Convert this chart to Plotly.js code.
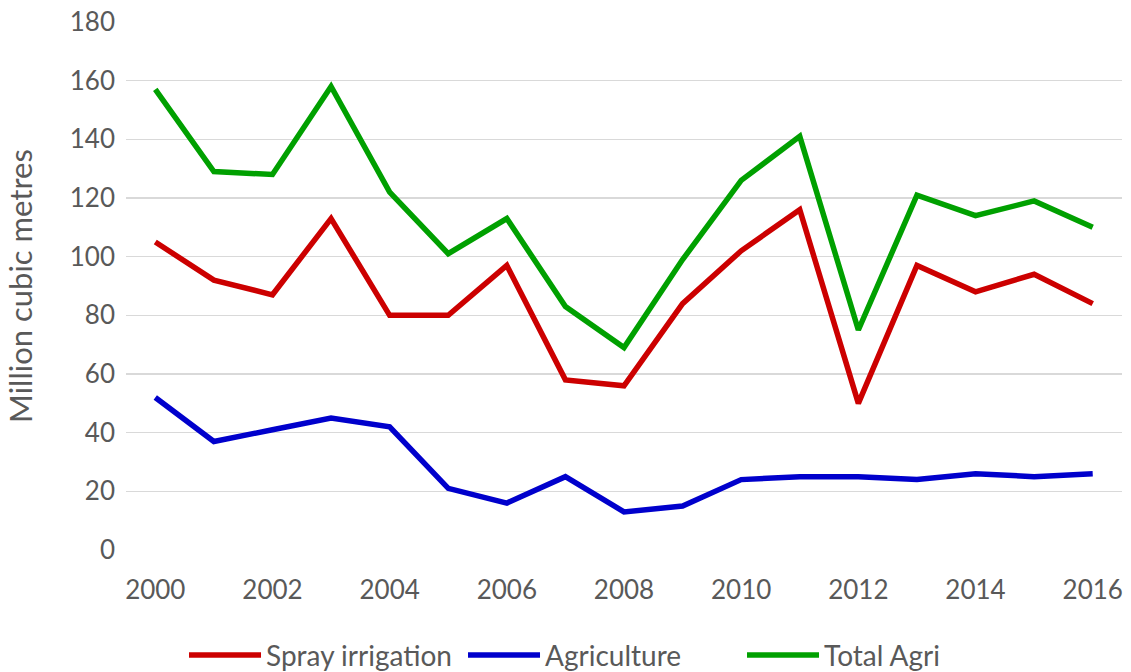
<!DOCTYPE html>
<html>
<head>
<meta charset="utf-8">
<script src="https://cdn.plot.ly/plotly-3.0.1.min.js"></script>
<style>html,body{margin:0;padding:0;background:#fff;}#chart{width:1131px;height:672px;}</style>
</head>
<body>
<div id="chart"></div>
<script>
const years = [2000,2001,2002,2003,2004,2005,2006,2007,2008,2009,2010,2011,2012,2013,2014,2015,2016];
const sprayIrrigation = [105,92,87,113,80,80,97,58,56,84,102,116,50,97,88,94,84];
const agriculture = [52,37,41,45,42,21,16,25,13,15,24,25,25,24,26,25,26];
const totalAgri = [157,129,128,158,122,101,113,83,69,99,126,141,75,121,114,119,110];
const xTickVals = [2000,2002,2004,2006,2008,2010,2012,2014,2016];
const yTickVals = [0,20,40,60,80,100,120,140,160,180];

const fontFam = 'Lato, "Open Sans", sans-serif';
const textColor = '#595959';

const traces = [
  {x: years, y: sprayIrrigation, name: 'Spray irrigation', type: 'scatter', mode: 'lines',
   line: {color: '#cc0000', width: 5.5}},
  {x: years, y: agriculture, name: 'Agriculture', type: 'scatter', mode: 'lines',
   line: {color: '#0000cc', width: 5.5}},
  {x: years, y: totalAgri, name: 'Total Agri', type: 'scatter', mode: 'lines',
   line: {color: '#00a000', width: 5.5}}
];

const layout = {
  width: 1131, height: 672,
  margin: {l: 126, r: 9, t: 22, b: 122, autoexpand: false},
  paper_bgcolor: '#ffffff', plot_bgcolor: '#ffffff',
  font: {family: fontFam, color: textColor, size: 24},
  showlegend: true,
  legend: {orientation: 'h', xref: 'container', yref: 'container', x: 0.1627, xanchor: 'left',
           y: 0.025, yanchor: 'middle',
           font: {size: 28, color: textColor}, itemwidth: 72, entrywidth: 192, entrywidthmode: 'pixels',
           traceorder: 'normal'},
  xaxis: {range: [1999.5, 2016.5], tickvals: xTickVals, ticktext: xTickVals.map(String),
          showgrid: false, zeroline: false, showline: false, ticks: '', ticklabelstandoff: 22,
          tickfont: {size: 26, color: textColor}, fixedrange: true, automargin: false},
  yaxis: {range: [0, 180], tickvals: yTickVals, showgrid: true, gridcolor: '#d9d9d9', gridwidth: 1.5,
          zeroline: false, showline: false, ticks: '', ticklabelstandoff: 10,
          tickfont: {size: 26, color: textColor}, fixedrange: true, automargin: false,
          title: {text: 'Million cubic metres', font: {size: 31, color: textColor}, standoff: 27}}
};

Plotly.newPlot('chart', traces, layout, {displayModeBar: false, staticPlot: true});
</script>
</body>
</html>
